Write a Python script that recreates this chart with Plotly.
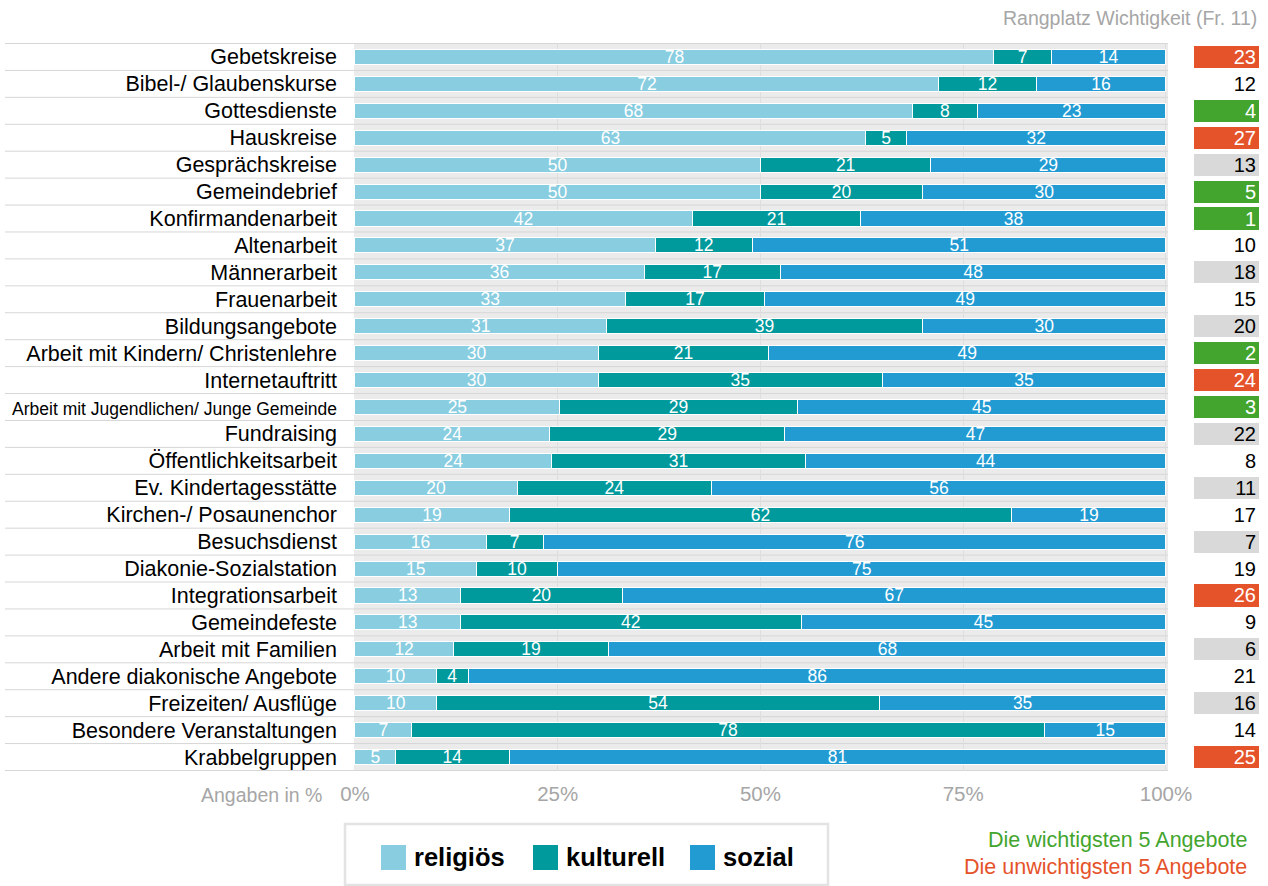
import plotly.graph_objects as go

# Angebote der Gemeinde, jeweils Anteil religiös / kulturell / sozial (in %)
angebote = [
    "Gebetskreise", "Bibel-/ Glaubenskurse", "Gottesdienste", "Hauskreise",
    "Gesprächskreise", "Gemeindebrief", "Konfirmandenarbeit", "Altenarbeit",
    "Männerarbeit", "Frauenarbeit", "Bildungsangebote",
    "Arbeit mit Kindern/ Christenlehre", "Internetauftritt",
    "Arbeit mit Jugendlichen/ Junge Gemeinde", "Fundraising",
    "Öffentlichkeitsarbeit", "Ev. Kindertagesstätte", "Kirchen-/ Posaunenchor",
    "Besuchsdienst", "Diakonie-Sozialstation", "Integrationsarbeit",
    "Gemeindefeste", "Arbeit mit Familien", "Andere diakonische Angebote",
    "Freizeiten/ Ausflüge", "Besondere Veranstaltungen", "Krabbelgruppen",
]
religioes = [78, 72, 68, 63, 50, 50, 42, 37, 36, 33, 31, 30, 30, 25, 24, 24,
             20, 19, 16, 15, 13, 13, 12, 10, 10, 7, 5]
kulturell = [7, 12, 8, 5, 21, 20, 21, 12, 17, 17, 39, 21, 35, 29, 29, 31,
             24, 62, 7, 10, 20, 42, 19, 4, 54, 78, 14]
sozial = [14, 16, 23, 32, 29, 30, 38, 51, 48, 49, 30, 49, 35, 45, 47, 44,
          56, 19, 76, 75, 67, 45, 68, 86, 35, 15, 81]
# Rangplatz Wichtigkeit (Frage 11)
rangplatz = [23, 12, 4, 27, 13, 5, 1, 10, 18, 15, 20, 2, 24, 3, 22, 8,
             11, 17, 7, 19, 26, 9, 6, 21, 16, 14, 25]

serien = [("religiös", religioes, "#88cde0"),
          ("kulturell", kulturell, "#00999c"),
          ("sozial", sozial, "#229bd3")]

GRUEN, ROT, GRAU = "#43a52e", "#e5532a", "#d9d9d9"
FONT = "Arial, Liberation Sans, Helvetica, sans-serif"

W, H = 1268, 886
ML, MR, MT, MB = 5, 9, 43, 115
PW, PH = W - ML - MR, H - MT - MB


def px(x):
    return (x - ML) / PW


def py(y):
    return (H - MB - y) / PH


x_dom = [px(354), px(1168)]
x2_dom = [px(1194), 1.0]

fig = go.Figure()

for name, werte, farbe in serien:
    fig.add_trace(go.Bar(
        name=name, y=angebote, x=werte, orientation="h",
        marker=dict(color=farbe, line=dict(color="white", width=1)),
        width=0.56,
        text=werte, texttemplate="%{text}", textposition="inside",
        insidetextanchor="middle", textangle=0, constraintext="none",
        textfont=dict(color="white", size=17.5, family=FONT),
        hoverinfo="skip", showlegend=False,
    ))

# Rangplatz-Spalte: Top 5 grün, letzte 5 rot, sonst abwechselnd grau / weiß
rang_farben, rang_text = [], []
for i, r in enumerate(rangplatz):
    if r <= 5:
        rang_farben.append(GRUEN); rang_text.append("white")
    elif r >= len(rangplatz) - 4:
        rang_farben.append(ROT); rang_text.append("white")
    else:
        rang_farben.append(GRAU if i % 2 == 0 else "white")
        rang_text.append("black")

fig.add_trace(go.Bar(
    y=angebote, x=[1] * len(angebote), orientation="h",
    xaxis="x2", yaxis="y", width=0.82,
    marker=dict(color=rang_farben, line=dict(width=0)),
    text=rangplatz, texttemplate="%{text}", textposition="inside",
    insidetextanchor="end", textangle=0, constraintext="none",
    textfont=dict(color=rang_text, size=20, family=FONT),
    hoverinfo="skip", showlegend=False,
))

ticktext = [f'<span style="font-size:17.5px">{a}</span>' if len(a) > 35 else a
            for a in angebote]

shapes = [dict(type="rect", xref="paper", yref="paper",
               x0=x_dom[0], x1=x_dom[1], y0=0, y1=1,
               fillcolor="#ebebeb", line=dict(width=0), layer="below")]
for k in range(len(angebote) + 1):
    shapes.append(dict(type="line", xref="paper", yref="y",
                       x0=0, x1=x_dom[1], y0=k - 0.5, y1=k - 0.5,
                       line=dict(color="#d6d6d6", width=1), layer="below"))

annotations = [
    dict(text="Rangplatz Wichtigkeit (Fr. 11)", xref="paper", yref="paper",
         x=px(1259), y=py(18), xanchor="right", yanchor="middle",
         showarrow=False, font=dict(size=19.5, color="#a6a6a6", family=FONT)),
    dict(text="Angaben in %", xref="paper", yref="paper",
         x=px(324), y=py(795), xanchor="right", yanchor="middle",
         showarrow=False, font=dict(size=19.5, color="#a6a6a6", family=FONT)),
    dict(text="Die wichtigsten 5 Angebote", xref="paper", yref="paper",
         x=px(1249), y=py(840), xanchor="right", yanchor="middle",
         showarrow=False, font=dict(size=21.5, color=GRUEN, family=FONT)),
    dict(text="Die unwichtigsten 5 Angebote", xref="paper", yref="paper",
         x=px(1249), y=py(867), xanchor="right", yanchor="middle",
         showarrow=False, font=dict(size=21.5, color=ROT, family=FONT)),
]

# Legende mit Rahmen unter dem Diagramm
shapes.append(dict(type="rect", xref="paper", yref="paper",
                   x0=px(345), x1=px(828), y0=py(824), y1=py(885),
                   line=dict(color="#e3e3e3", width=2.5), fillcolor="white"))
leg_x = [381, 533, 690]
for (name, _, farbe), lx in zip(serien, leg_x):
    shapes.append(dict(type="rect", xref="paper", yref="paper",
                       x0=px(lx), x1=px(lx + 25), y0=py(845), y1=py(870),
                       fillcolor=farbe, line=dict(width=0)))
    annotations.append(dict(text=f"<b>{name}</b>", xref="paper", yref="paper",
                            x=px(lx + 31), y=py(857), xanchor="left",
                            yanchor="middle", showarrow=False,
                            font=dict(size=25.5, color="black", family=FONT)))

fig.update_layout(
    width=W, height=H, autosize=False,
    margin=dict(l=ML, r=MR, t=MT, b=MB, autoexpand=False),
    paper_bgcolor="white", plot_bgcolor="rgba(0,0,0,0)",
    barmode="stack", barnorm="percent", showlegend=False,
    font=dict(family=FONT),
    xaxis=dict(domain=x_dom, range=[-0.12, 100.25], automargin=False,
               tickmode="array", tickvals=[0, 25, 50, 75, 100],
               ticktext=["0%", "25%", "50%", "75%", "100%"],
               tickfont=dict(size=20.5, color="#a6a6a6"),
               showgrid=True, gridcolor="#dedede", gridwidth=1,
               zeroline=False, showline=False, ticks="",
               ticklabelstandoff=8),
    xaxis2=dict(domain=x2_dom, range=[0, 100], anchor="y", automargin=False,
                showgrid=False, zeroline=False, showticklabels=False,
                showline=False),
    yaxis=dict(categoryorder="array", categoryarray=angebote,
               autorange="reversed", tickmode="array", tickvals=angebote,
               ticktext=ticktext, tickfont=dict(size=21.5, color="black"),
               showgrid=False, zeroline=False, showline=False, ticks="",
               ticklabelstandoff=16, automargin=False),
    shapes=shapes, annotations=annotations,
)

fig.write_html("out.html")
